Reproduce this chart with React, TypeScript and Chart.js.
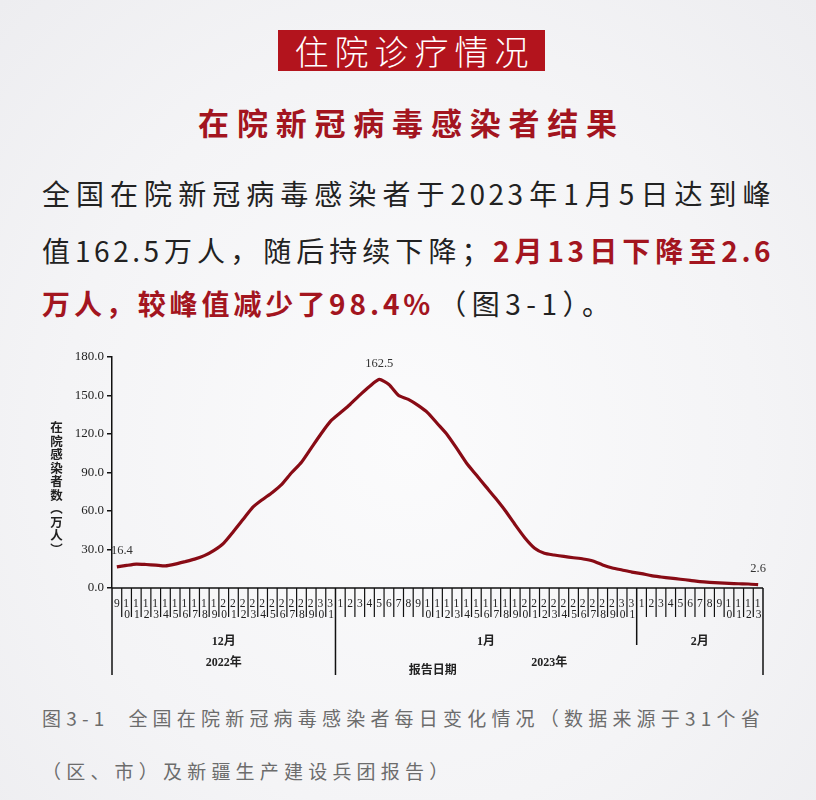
import React, { useEffect, useRef } from "react";
import { Chart, registerables } from "chart.js";

Chart.register(...registerables);

// Day labels: Dec 9 – Dec 31 (2022), Jan 1 – Jan 31 (2023), Feb 1 – Feb 13 (2023)
const decDays: number[] = [9, 10, 11, 12, 13, 14, 15, 16, 17, 18, 19, 20, 21, 22, 23, 24, 25, 26, 27, 28, 29, 30, 31];
const janDays: number[] = [1, 2, 3, 4, 5, 6, 7, 8, 9, 10, 11, 12, 13, 14, 15, 16, 17, 18, 19, 20, 21, 22, 23, 24, 25, 26, 27, 28, 29, 30, 31];
const febDays: number[] = [1, 2, 3, 4, 5, 6, 7, 8, 9, 10, 11, 12, 13];

const categories: string[] = [
  ...decDays.map((d) => `12-${d}`),
  ...janDays.map((d) => `1-${d}`),
  ...febDays.map((d) => `2-${d}`),
];
const dayLabels: number[] = [...decDays, ...janDays, ...febDays];

// 在院新冠病毒感染者（万人）
const inpatients: number[] = [
  16.4, 17.6, 18.6, 18.3, 17.8, 17.2, 18.6, 20.5, 22.5, 25.2, 29.3, 35.0, 44.0, 53.5, 63.0, 69.0,
  74.5, 81.0, 90.0, 98.0, 109.0, 120.0, 130.0,
  136.5, 143.0, 150.3, 157.0, 162.5, 158.5, 150.0, 147.0, 142.3, 136.5, 128.0, 119.5, 108.6, 97.2,
  88.0, 78.8, 69.7, 60.0, 49.2, 39.0, 31.0, 27.0, 25.7, 24.6, 23.6, 22.6, 21.0, 18.0, 15.6, 14.0, 12.4,
  11.2, 9.6, 8.6, 7.7, 6.8, 6.0, 5.0, 4.4, 4.0, 3.6, 3.3, 3.1, 2.6,
];

const yTicks: number[] = [0, 30, 60, 90, 120, 150, 180];
const annotatedIdx: number[] = [0, 27, 66];

const months = [
  { label: "12月", start: 0, count: decDays.length },
  { label: "1月", start: decDays.length, count: janDays.length },
  { label: "2月", start: decDays.length + janDays.length, count: febDays.length },
];
const years = [
  { label: "2022年", start: 0, count: decDays.length },
  { label: "2023年", start: decDays.length, count: janDays.length + febDays.length },
];

const SERIF = '"Liberation Serif", "Noto Sans CJK SC", serif';

const axisPlugin = {
  id: "customXAxis",
  afterDraw(chart: any) {
    const { ctx, chartArea } = chart;
    const x = chart.scales.x;
    const n = categories.length;
    const left = chartArea.left;
    const right = chartArea.right;
    const w = (right - left) / n;
    const base = chartArea.bottom;
    ctx.save();
    ctx.strokeStyle = "#111";
    ctx.lineWidth = 1.5;
    ctx.beginPath();
    ctx.moveTo(left, base);
    ctx.lineTo(right, base);
    ctx.stroke();

    const monthStarts = months.map((m) => m.start);
    for (let k = 0; k <= n; k++) {
      const px = left + k * w;
      let len = 29;
      if (k === 0 || k === n || k === decDays.length) len = 87;
      else if (monthStarts.includes(k)) len = 57;
      ctx.lineWidth = k === 0 || k === n || monthStarts.includes(k) ? 1.5 : 1.2;
      ctx.beginPath();
      ctx.moveTo(px, base);
      ctx.lineTo(px, base + len);
      ctx.stroke();
    }

    ctx.fillStyle = "#222";
    ctx.font = `11.5px ${SERIF}`;
    ctx.textAlign = "center";
    ctx.textBaseline = "middle";
    for (let i = 0; i < n; i++) {
      const cx = x.getPixelForValue(i);
      const d = dayLabels[i];
      if (d < 10) {
        ctx.fillText(String(d), cx, base + 16);
      } else {
        const s = String(d);
        ctx.fillText(s[0], cx - 0.5, base + 16);
        ctx.fillText(s[1], cx + 0.5, base + 27);
      }
    }

    ctx.font = `bold 12px ${SERIF}`;
    months.forEach((m) => {
      const cx = left + (m.start + m.count / 2) * w;
      ctx.fillText(m.label, cx, base + 54);
    });
    years.forEach((y) => {
      const cx = left + (y.start + y.count / 2) * w;
      ctx.fillText(y.label, cx, base + 75);
    });
    ctx.fillText("报告日期", left + (decDays.length + 10) * w, base + 83);

    // data labels
    const meta = chart.getDatasetMeta(0);
    ctx.font = `12.5px ${SERIF}`;
    ctx.fillStyle = "#333";
    annotatedIdx.forEach((i) => {
      const pt = meta.data[i];
      ctx.fillText(inpatients[i].toFixed(1), pt.x + (i === 0 ? 5 : 0), pt.y - 16);
    });
    ctx.restore();
  },
};

function ChartView() {
  const ref = useRef<HTMLCanvasElement | null>(null);
  useEffect(() => {
    if (!ref.current) return;
    const chart = new Chart(ref.current, {
      type: "line",
      data: {
        labels: categories,
        datasets: [
          {
            data: inpatients,
            borderColor: "#880b15",
            borderWidth: 3.2,
            pointRadius: 0,
            tension: 0.2,
            fill: false,
          },
        ],
      },
      options: {
        animation: false,
        responsive: false,
        layout: { padding: { left: 0, right: 53, top: 17, bottom: 112 } },
        plugins: { legend: { display: false }, tooltip: { enabled: false } },
        scales: {
          x: { type: "category", display: false, offset: true },
          y: {
            min: 0,
            max: 180,
            afterBuildTicks: (scale: any) => {
              scale.ticks = yTicks.map((v) => ({ value: v }));
            },
            afterFit: (scale: any) => {
              scale.width = 112;
            },
            ticks: {
              callback: (v: any) => Number(v).toFixed(1),
              font: { family: SERIF, size: 13 },
              color: "#222",
              padding: 3,
            },
            grid: {
              drawOnChartArea: false,
              drawTicks: true,
              tickLength: 5,
              color: "#111",
              lineWidth: 1.5,
            },
            border: { display: true, color: "#111", width: 1.5 },
          },
        },
      },
      plugins: [axisPlugin],
    });
    return () => chart.destroy();
  }, []);
  return (
    <canvas
      ref={ref}
      width={816}
      height={360}
      style={{ position: "absolute", left: 0, top: 340, width: 816, height: 360 }}
    />
  );
}

const SANS = '"Noto Sans CJK SC", "Noto Sans", sans-serif';
const RED = "#a3151f";

export default function App() {
  const para: React.CSSProperties = {
    position: "absolute",
    left: 42,
    height: 40,
    lineHeight: "40px",
    fontSize: 28,
    letterSpacing: 3.5,
    color: "#222",
    whiteSpace: "nowrap",
    fontFamily: SANS,
  };
  const justified: React.CSSProperties = {
    width: 732,
    textAlign: "justify",
    textAlignLast: "justify",
    textJustify: "inter-character" as any,
  };
  const redB: React.CSSProperties = { color: RED, fontWeight: 700 };
  const cap: React.CSSProperties = {
    position: "absolute",
    left: 42,
    height: 30,
    lineHeight: "30px",
    fontSize: 19,
    letterSpacing: 5.2,
    color: "#6c6c6c",
    whiteSpace: "nowrap",
    fontFamily: SANS,
  };
  return (
    <div
      style={{
        position: "absolute",
        left: 0,
        top: 0,
        width: 816,
        height: 800,
        overflow: "hidden",
        background: "radial-gradient(ellipse at 50% 55%, #fbfbfc 0%, #f4f4f6 60%, #ededf0 100%)",
        fontFamily: SANS,
      }}
    >
      <div
        style={{
          position: "absolute",
          left: 278,
          top: 30,
          width: 267,
          height: 41,
          background: "#b3141d",
          color: "#fff",
          fontSize: 34,
          lineHeight: "41px",
          textAlign: "center",
          letterSpacing: 6,
          paddingLeft: 6,
          boxSizing: "border-box",
          fontFamily: SANS,
          fontWeight: 300,
        }}
      >
        住院诊疗情况
      </div>
      <div
        style={{
          position: "absolute",
          left: 0,
          top: 101,
          width: 816,
          textAlign: "center",
          fontSize: 31,
          lineHeight: "42px",
          fontWeight: 700,
          letterSpacing: 7.8,
          paddingLeft: 7,
          boxSizing: "border-box",
          color: RED,
        }}
      >
        在院新冠病毒感染者结果
      </div>
      <div style={{ ...para, ...justified, top: 173 }}>全国在院新冠病毒感染者于2023年1月5日达到峰</div>
      <div style={{ ...para, ...justified, top: 230 }}>
        值162.5万人，随后持续下降；<span style={redB}>2月13日下降至2.6</span>
      </div>
      <div style={{ ...para, top: 283 }}>
        <span style={{ ...redB, letterSpacing: 3.9 }}>万人，较峰值减少了98.4%</span>
        <span style={{ letterSpacing: 5.5, marginLeft: 4 }}>（图3-1）。</span>
      </div>

      <ChartView />

      <div
        style={{
          position: "absolute",
          left: 49,
          top: 421,
          writingMode: "vertical-rl",
          fontSize: 12.5,
          lineHeight: "14px",
          letterSpacing: 1,
          fontWeight: 700,
          color: "#222",
          fontFamily: SANS,
        }}
      >
        在院感染者数（万人）
      </div>

      <div style={{ ...cap, top: 703 }}>图3-1&nbsp;&nbsp;全国在院新冠病毒感染者每日变化情况（数据来源于31个省</div>
      <div style={{ ...cap, top: 756 }}>（区、市）及新疆生产建设兵团报告）</div>
    </div>
  );
}
